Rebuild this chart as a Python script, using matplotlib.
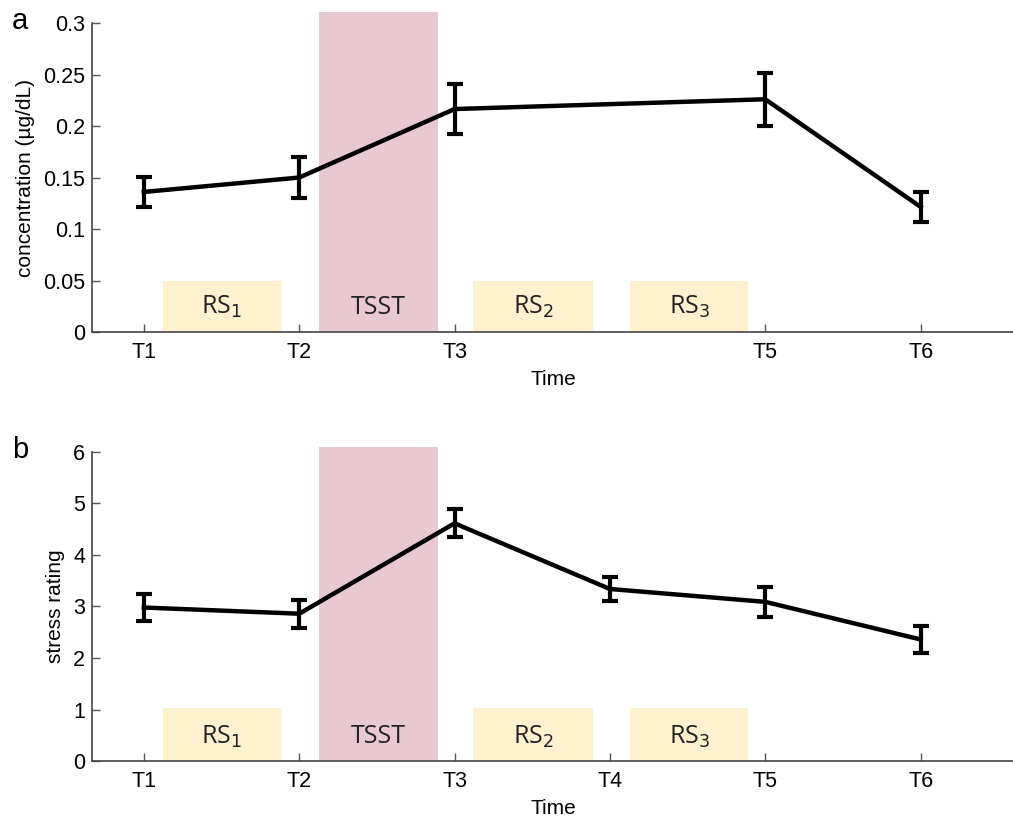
import matplotlib
matplotlib.use("Agg")
import matplotlib.pyplot as plt

# Panel a: cortisol concentration
conc_x = [1, 2, 3, 5, 6]
conc_labels = ["T1", "T2", "T3", "T5", "T6"]
conc_mean = [0.136, 0.150, 0.2165, 0.226, 0.1215]
conc_err = [0.0145, 0.0195, 0.0242, 0.0258, 0.0146]

# Panel b: stress rating
stress_x = [1, 2, 3, 4, 5, 6]
stress_labels = ["T1", "T2", "T3", "T4", "T5", "T6"]
stress_mean = [2.98, 2.86, 4.615, 3.34, 3.09, 2.36]
stress_err = [0.27, 0.27, 0.275, 0.225, 0.285, 0.27]

# Phase blocks (x start, x end, label)
tsst_span = (2.125, 2.895)
rs_spans = [(1.12, 1.88), (3.12, 3.89), (4.13, 4.89)]
rs_labels = ["RS$_1$", "RS$_2$", "RS$_3$"]

PINK = "#E8C8D1"
YELLOW = "#FFF1CD"
plt.rcParams["font.family"] = ["Liberation Sans", "DejaVu Sans"]

fig = plt.figure(figsize=(10.13, 8.17), dpi=100)
ax_a = fig.add_axes([0.0908, 0.5936, 0.91, 0.3782])
ax_b = fig.add_axes([0.0908, 0.0685, 0.91, 0.3783])

def panel(ax, x, y, err, ticks, labels, ylim, yticks, yticklabels, ylabel,
          tsst_top, rs_top, text_y):
    ax.set_xlim(0.666, 6.6)
    ax.set_ylim(*ylim)
    ax.add_patch(plt.Rectangle((tsst_span[0], 0), tsst_span[1] - tsst_span[0], tsst_top,
                               facecolor=PINK, edgecolor="none", clip_on=False, zorder=1))
    ax.text((tsst_span[0] + tsst_span[1]) / 2, text_y, "TSST", ha="center", va="center",
            fontsize=18, family=["Open Sans", "DejaVu Sans"], color="#222222", zorder=2)
    for (s, e), lab in zip(rs_spans, rs_labels):
        ax.add_patch(plt.Rectangle((s, 0), e - s, rs_top, facecolor=YELLOW,
                                   edgecolor="none", zorder=1))
        ax.text((s + e) / 2, text_y, lab, ha="center", va="center", fontsize=18,
                family=["Open Sans", "DejaVu Sans"], color="#222222", zorder=2)
    ax.errorbar(x, y, yerr=err, color="black", lw=3.2, elinewidth=3, capsize=6,
                capthick=3, zorder=3)
    ax.set_xticks(ticks)
    ax.set_xticklabels(labels)
    ax.set_yticks(yticks)
    ax.set_yticklabels(yticklabels)
    ax.tick_params(direction="in", length=6, width=1, labelsize=15.5, colors="#555555",
                   labelcolor="black")
    ax.tick_params(axis="x", pad=7)
    ax.tick_params(axis="y", pad=5)
    for sp in ["top", "right"]:
        ax.spines[sp].set_visible(False)
    for sp in ["left", "bottom"]:
        ax.spines[sp].set_color("#444444")
        ax.spines[sp].set_linewidth(1.2)
    ax.set_xlabel("Time", fontsize=15, labelpad=5)
    ax.set_ylabel(ylabel, fontsize=15, labelpad=6)
    ax.patch.set_alpha(0)

panel(ax_a, conc_x, conc_mean, conc_err, conc_x, conc_labels, (0, 0.3),
      [0, 0.05, 0.1, 0.15, 0.2, 0.25, 0.3],
      ["0", "0.05", "0.1", "0.15", "0.2", "0.25", "0.3"],
      "concentration (\u00b5g/dL)", 0.311, 0.05, 0.024)
panel(ax_b, stress_x, stress_mean, stress_err, stress_x, stress_labels, (0, 6),
      [0, 1, 2, 3, 4, 5, 6], ["0", "1", "2", "3", "4", "5", "6"],
      "stress rating", 6.10, 1.02, 0.47)

fig.text(0.0118, 0.974, "a", fontsize=21, va="center", ha="left")
fig.text(0.0118, 0.449, "b", fontsize=21, va="center", ha="left")

fig.savefig("out.png", dpi=100)
